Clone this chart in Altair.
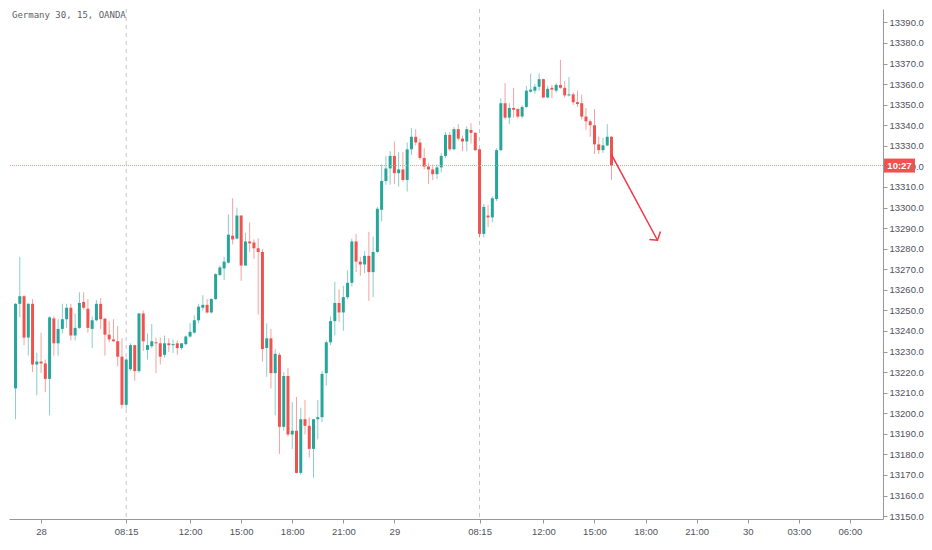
import altair as alt
import pandas as pd

# ---- data: 15-minute candles (bar index, trading-time axis) ----
bar_index = list(range(-6, 135))

opens = [13212.1, 13253.2, 13256.9, 13236.8, 13253.2, 13223.7, 13225.1, 13224.2, 13216.7, 13246.1,
         13234.0, 13241.0, 13245.7, 13251.3, 13237.8, 13241.5, 13254.1, 13250.8, 13241.0, 13245.2,
         13253.2, 13246.0, 13238.2, 13235.9, 13235.0, 13227.5, 13204.1, 13221.4, 13233.1, 13220.5,
         13248.5, 13230.8, 13232.6, 13234.5, 13234.0, 13228.4, 13234.0, 13233.1, 13234.0, 13231.7,
         13233.6, 13237.3, 13239.2, 13245.2, 13251.3, 13252.7, 13249.0, 13255.5, 13267.2, 13270.4,
         13273.2, 13286.3, 13284.9, 13296.1, 13271.8, 13283.5, 13283.0, 13280.2, 13278.4, 13231.7,
         13236.4, 13219.5, 13228.4, 13193.4, 13218.1, 13189.7, 13191.5, 13171.0, 13197.1, 13193.9,
         13182.7, 13197.1, 13198.1, 13219.5, 13234.5, 13244.8, 13253.6, 13249.0, 13256.4, 13263.4,
         13283.5, 13273.7, 13272.3, 13276.5, 13268.6, 13278.4, 13298.9, 13312.9, 13319.0, 13325.1,
         13316.7, 13318.5, 13313.4, 13328.3, 13334.4, 13331.6, 13324.1, 13319.9, 13318.5, 13316.2,
         13319.5, 13325.1, 13335.3, 13328.3, 13338.1, 13333.5, 13332.1, 13337.7, 13336.3, 13328.3,
         13287.2, 13296.1, 13295.2, 13304.1, 13327.9, 13350.7, 13343.7, 13348.4, 13347.9, 13344.2,
         13348.9, 13356.3, 13356.8, 13358.7, 13362.4, 13353.5, 13358.2, 13356.8, 13359.6, 13358.2,
         13354.5, 13355.0, 13351.2, 13350.7, 13344.2, 13341.9, 13340.0, 13330.7, 13327.9, 13330.2,
         13334.4]
highs = [13253.5, 13276.0, 13257.4, 13253.5, 13255.5, 13229.4, 13239.2, 13226.1, 13247.1, 13247.1,
         13245.7, 13253.2, 13253.2, 13253.2, 13248.5, 13258.8, 13258.8, 13255.5, 13247.1, 13255.0,
         13256.0, 13246.2, 13244.8, 13245.7, 13242.4, 13236.4, 13227.0, 13234.0, 13233.3, 13248.7,
         13249.9, 13238.7, 13243.4, 13236.8, 13236.8, 13237.8, 13236.4, 13235.9, 13235.4, 13234.2,
         13237.8, 13243.8, 13247.6, 13253.2, 13257.4, 13255.5, 13256.0, 13268.1, 13271.8, 13276.0,
         13296.6, 13304.5, 13299.9, 13296.3, 13287.7, 13292.8, 13284.5, 13285.0, 13279.8, 13243.8,
         13241.0, 13231.2, 13229.4, 13220.0, 13221.9, 13205.5, 13207.9, 13202.7, 13206.5, 13198.1,
         13197.3, 13206.5, 13220.5, 13235.4, 13247.1, 13263.9, 13260.2, 13262.0, 13269.5, 13284.9,
         13287.2, 13276.0, 13278.8, 13288.2, 13285.8, 13300.3, 13320.9, 13325.1, 13327.4, 13332.1,
         13326.9, 13326.9, 13331.6, 13338.6, 13338.1, 13333.5, 13328.8, 13321.8, 13320.9, 13320.9,
         13326.5, 13336.7, 13336.7, 13339.1, 13340.5, 13334.9, 13339.5, 13341.0, 13336.7, 13328.5,
         13301.7, 13301.3, 13305.5, 13328.8, 13353.1, 13360.5, 13350.7, 13358.2, 13348.2, 13349.8,
         13359.1, 13365.2, 13360.1, 13365.2, 13362.6, 13359.1, 13359.6, 13360.5, 13371.8, 13361.5,
         13363.4, 13355.9, 13356.8, 13354.9, 13348.4, 13342.8, 13347.9, 13334.4, 13333.9, 13340.5,
         13334.6]
lows = [13197.1, 13246.6, 13233.1, 13228.0, 13220.0, 13208.8, 13219.5, 13210.2, 13199.0, 13228.0,
        13228.0, 13238.7, 13241.5, 13235.4, 13235.4, 13241.0, 13250.4, 13239.2, 13231.7, 13244.7,
        13241.0, 13228.0, 13234.5, 13234.8, 13222.8, 13202.3, 13202.3, 13220.5, 13215.8, 13219.5,
        13230.3, 13226.1, 13231.7, 13219.5, 13223.7, 13227.0, 13229.8, 13229.3, 13228.4, 13230.8,
        13233.1, 13236.8, 13238.7, 13243.8, 13249.9, 13248.5, 13248.5, 13255.0, 13266.7, 13264.8,
        13272.8, 13282.1, 13284.5, 13264.4, 13271.6, 13278.4, 13275.1, 13248.0, 13225.1, 13217.7,
        13212.1, 13199.0, 13180.3, 13191.5, 13188.7, 13182.7, 13170.8, 13170.1, 13189.7, 13178.5,
        13168.7, 13187.3, 13195.7, 13213.5, 13233.1, 13237.8, 13244.3, 13240.1, 13255.5, 13261.6,
        13268.6, 13266.7, 13268.1, 13254.6, 13256.4, 13277.9, 13293.3, 13311.1, 13311.1, 13311.5,
        13310.1, 13312.5, 13307.8, 13325.5, 13330.2, 13323.2, 13318.5, 13311.5, 13313.4, 13313.9,
        13317.1, 13324.1, 13327.4, 13327.9, 13332.5, 13327.4, 13327.4, 13331.1, 13327.4, 13285.4,
        13285.4, 13290.5, 13292.8, 13303.1, 13327.4, 13342.8, 13340.5, 13343.7, 13343.3, 13343.3,
        13348.4, 13355.9, 13355.4, 13356.8, 13353.1, 13353.1, 13353.1, 13355.9, 13357.7, 13353.5,
        13354.0, 13349.8, 13348.9, 13342.8, 13337.7, 13334.4, 13326.0, 13326.0, 13326.5, 13329.8,
        13313.4]
closes = [13253.2, 13256.9, 13236.8, 13253.2, 13223.7, 13225.1, 13224.2, 13216.7, 13246.6, 13234.0,
          13241.0, 13245.7, 13251.3, 13237.8, 13241.5, 13253.6, 13251.3, 13241.5, 13245.2, 13253.2,
          13245.7, 13238.2, 13235.9, 13235.0, 13227.5, 13204.1, 13226.1, 13233.1, 13220.5, 13248.5,
          13235.0, 13233.1, 13235.0, 13234.0, 13227.5, 13234.0, 13233.1, 13233.6, 13231.7, 13234.0,
          13237.3, 13239.6, 13245.2, 13251.8, 13252.7, 13249.0, 13255.5, 13267.6, 13270.9, 13273.7,
          13286.8, 13284.5, 13296.1, 13271.8, 13283.5, 13282.6, 13280.2, 13278.4, 13231.2, 13236.4,
          13219.5, 13228.9, 13193.4, 13218.1, 13189.7, 13191.5, 13171.0, 13197.1, 13193.9, 13182.7,
          13197.1, 13198.1, 13219.1, 13234.5, 13244.8, 13253.6, 13249.0, 13256.4, 13263.4, 13283.5,
          13273.7, 13272.3, 13276.5, 13268.6, 13278.4, 13299.4, 13312.9, 13319.0, 13325.1, 13316.7,
          13318.5, 13313.4, 13328.3, 13334.4, 13331.6, 13324.1, 13319.9, 13318.5, 13316.2, 13319.5,
          13325.1, 13335.3, 13328.3, 13338.1, 13333.5, 13332.1, 13338.1, 13336.3, 13327.9, 13287.2,
          13300.3, 13295.2, 13304.5, 13327.9, 13350.7, 13343.7, 13348.4, 13347.5, 13344.2, 13348.9,
          13356.8, 13357.3, 13358.7, 13362.4, 13353.5, 13357.7, 13357.3, 13359.6, 13358.2, 13354.5,
          13355.0, 13351.2, 13350.3, 13344.2, 13341.9, 13340.0, 13330.7, 13327.9, 13330.2, 13334.4,
          13320.4]

# time-axis labels (positions are bar indices on the trading-time axis)
tick_pos = [0, 20, 35, 47, 59, 71, 83, 103, 118, 130, 142, 154, 166, 178, 190]
tick_text = ["28", "08:15", "12:00", "15:00", "18:00", "21:00", "29", "08:15",
             "12:00", "15:00", "18:00", "21:00", "30", "03:00", "06:00"]
price_ticks = list(range(13150, 13391, 10))

session_breaks = [20, 103]
last_price = 13320.4
countdown = "10:27"
title_text = "Germany 30, 15, OANDA"

# drawn arrow annotation (bar index, price)
arrow_x = [134, 144.8]
arrow_y = [13325.7, 13284.1]
head_x = [142.9, 144.8, 145.5]
head_y = [13284.5, 13284.1, 13288.4]

UP = "#26a69a"
DOWN = "#ef5350"
W, H = 874, 510

df = pd.DataFrame({"i": bar_index, "o": opens, "h": highs, "l": lows, "c": closes})
df["dir"] = ["up" if c >= o else "down" for o, c in zip(opens, closes)]

xscale = alt.Scale(domain=[-6.36, 196.6], nice=False, zero=False)
yscale = alt.Scale(domain=[13148.6, 13396.5], nice=False, zero=False)
color = alt.Color("dir:N", scale=alt.Scale(domain=["up", "down"], range=[UP, DOWN]), legend=None)

label_expr = "[" + ",".join("'%s'" % t for t in tick_text) + "][indexof([" + \
    ",".join(str(p) for p in tick_pos) + "], datum.value)]"

xaxis = alt.Axis(values=tick_pos, labelExpr=label_expr, title=None, grid=False,
                 tickSize=4, labelPadding=3, domainColor="#9598a1", tickColor="#9598a1",
                 labelColor="#50535e", labelFontSize=9.5, labelFont="Liberation Sans",
                 labelFlush=False, labelOverlap=False)
yaxis = alt.Axis(values=price_ticks, format=".1f", orient="right", title=None, grid=False,
                 tickSize=4, labelPadding=2, domainColor="#9598a1", tickColor="#9598a1",
                 labelColor="#50535e", labelFontSize=9.5, labelFont="Liberation Sans",
                 labelOverlap=False, labelFlush=False, tickCount=25)

breaks = alt.Chart(pd.DataFrame({"i": session_breaks})).mark_rule(
    color="#c4c6cc", strokeDash=[4, 4], strokeWidth=1
).encode(x=alt.X("i:Q", scale=xscale, axis=xaxis))

base = alt.Chart(df)

wicks = base.mark_rule(strokeWidth=1, opacity=0.55, clip=True).encode(
    x=alt.X("i:Q", scale=xscale, axis=xaxis),
    y=alt.Y("l:Q", scale=yscale, axis=yaxis),
    y2="h:Q",
    color=color,
)
bodies = base.mark_bar(width=3, clip=True).encode(
    x=alt.X("i:Q", axis=xaxis),
    y=alt.Y("o:Q", axis=yaxis),
    y2="c:Q",
    color=color,
)

price_line = alt.Chart(pd.DataFrame({"p": [last_price]})).mark_rule(
    color="#f49a98", strokeDash=[1, 1], strokeWidth=1
).encode(y=alt.Y("p:Q", axis=yaxis))

shaft = alt.Chart(pd.DataFrame({"ax": arrow_x, "ay": arrow_y})).mark_line(
    color="#f23645", strokeWidth=1.5
).encode(x=alt.X("ax:Q", axis=xaxis), y=alt.Y("ay:Q", axis=yaxis))
head = alt.Chart(pd.DataFrame({"ax": head_x, "ay": head_y, "k": [0, 1, 2]})).mark_line(
    color="#f23645", strokeWidth=1.5
).encode(x=alt.X("ax:Q", axis=xaxis), y=alt.Y("ay:Q", axis=yaxis), order="k:Q")

box = alt.Chart(pd.DataFrame({"p": [last_price]})).mark_rect(color=DOWN).encode(
    x=alt.value(W + 1), x2=alt.value(W + 32),
    y=alt.Y("top:Q", axis=yaxis), y2="bot:Q",
).transform_calculate(top="datum.p + 3.4", bot="datum.p - 3.4")
box_text = alt.Chart(pd.DataFrame({"p": [last_price], "t": [countdown]})).mark_text(
    color="white", fontSize=9.5, font="Liberation Sans", fontWeight="bold", align="center", baseline="middle"
).encode(x=alt.value(W + 16.5), y=alt.Y("p:Q", axis=yaxis), text="t:N")

title = alt.Chart(pd.DataFrame({"t": [title_text]})).mark_text(
    color="#5d606b", fontSize=9, font="DejaVu Sans Mono", align="left", baseline="middle"
).encode(x=alt.value(3), y=alt.value(6), text="t:N")

chart = alt.layer(
    breaks, wicks, bodies, price_line, shaft, head, box, box_text, title
).properties(width=W, height=H, padding=0, background="white").configure_view(
    strokeOpacity=0, strokeWidth=0
)

chart.save("out.html", embed_options={"renderer": "svg", "actions": False})
